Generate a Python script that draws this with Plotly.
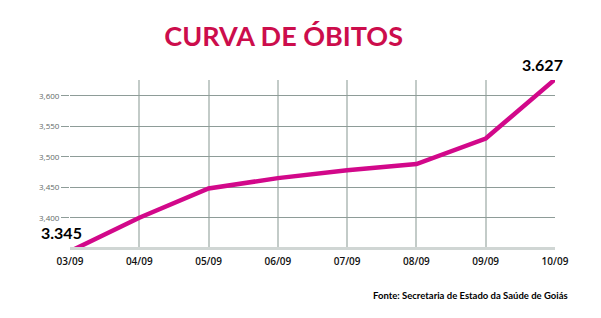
import plotly.graph_objects as go

dates = ["03/09", "04/09", "05/09", "06/09", "07/09", "08/09", "09/09", "10/09"]
obitos = [3345, 3400, 3448, 3465, 3478, 3488, 3530, 3627]
y_ticks = [3400, 3450, 3500, 3550, 3600]
y_tick_labels = ["3,400", "3,450", "3,500", "3,550", "3,600"]
first_label = "3.345"
last_label = "3.627"
source = "Fonte: Secretaria de Estado da Saúde de Goiás"

Y_RANGE = [3352, 3626]
LINE = "#d2088a"
TITLE = "#cc0d4c"


def clamp(v):
    return min(max(v, Y_RANGE[0]), Y_RANGE[1])


fig = go.Figure()
fig.add_trace(go.Scatter(
    x=dates, y=obitos, mode="lines",
    line=dict(color=LINE, width=4.5),
    cliponaxis=False, hoverinfo="skip", showlegend=False,
))

fig.update_layout(
    width=601, height=318,
    margin=dict(l=70, r=46, t=80, b=71),
    paper_bgcolor="white", plot_bgcolor="white",
    title=dict(text="<b>CURVA DE ÓBITOS</b>", x=0.472, xanchor="center",
               y=0.885, yanchor="middle",
               font=dict(family="Lato", size=27, color=TITLE, weight=900)),
    xaxis=dict(
        type="category", range=[0, 7],
        showgrid=True, gridcolor="#c3cbc8", gridwidth=2,
        showline=True, linecolor="#d0d6d4", linewidth=3,
        ticks="", zeroline=False,
        tickfont=dict(family="Open Sans", size=10, color="#111111", weight=600),
        ticklabelstandoff=3,
    ),
    yaxis=dict(
        range=Y_RANGE,
        tickvals=y_ticks, ticktext=y_tick_labels,
        showgrid=True, gridcolor="#8e9c98", gridwidth=1,
        ticks="outside", ticklen=8, tickcolor="#8e9c98", tickwidth=1,
        showline=False, zeroline=False,
        tickfont=dict(family="Open Sans", size=8, color="#5f6b68"),
    ),
)

fig.add_annotation(x=0, y=clamp(obitos[0]), xref="x", yref="y",
                   text=f"<b>{first_label}</b>",
                   showarrow=False, xanchor="center", yanchor="bottom",
                   xshift=-9, yshift=3,
                   font=dict(family="Lato", size=16, color="#000000"))
fig.add_annotation(x=7, y=clamp(obitos[-1]), xref="x", yref="y",
                   text=f"<b>{last_label}</b>",
                   showarrow=False, xanchor="center", yanchor="bottom",
                   xshift=-13, yshift=4,
                   font=dict(family="Lato", size=16, color="#000000"))
fig.add_annotation(text=source, xref="paper", yref="paper", x=1.03, y=-0.29,
                   xanchor="right", yanchor="middle", showarrow=False,
                   font=dict(family="Lato", size=9.5, color="#000000", weight=700))

fig.write_html("out.html")
